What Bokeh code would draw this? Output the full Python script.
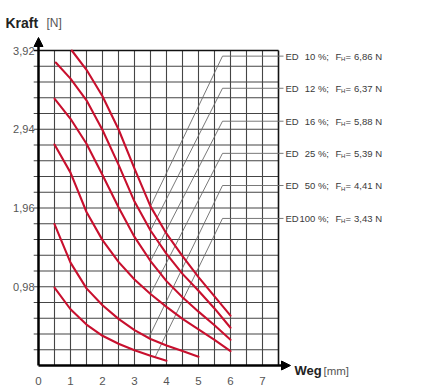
from bokeh.plotting import figure
from bokeh.models import Range1d, Arrow, NormalHead
from bokeh.core.properties import value
from bokeh.embed import file_html
from bokeh.resources import INLINE

# ---------------- data ----------------
x_tick_vals = [0, 1, 2, 3, 4, 5, 6, 7]
x_tick_labels = ["0", "1", "2", "3", "4", "5", "6", "7"]
y_tick_vals = [0.98, 1.96, 2.94, 3.92]
y_tick_labels = ["0,98", "1,96", "2,94", "3,92"]

ed_pct = ["10 %;", "12 %;", "16 %;", "25 %;", "50 %;", "100 %;"]
fh_vals = ["6,86 N", "6,37 N", "5,88 N", "5,39 N", "4,41 N", "3,43 N"]
label_y = [3.85, 3.45, 3.04, 2.64, 2.24, 1.83]

ed10_x = [1.04, 1.5, 2.0, 2.5, 3.0, 3.5, 4.0, 4.5, 5.0, 5.5, 6.0]
ed10_y = [3.92, 3.68, 3.35, 2.94, 2.45, 1.98, 1.64, 1.36, 1.10, 0.86, 0.62]
ed12_x = [0.54, 1.0, 1.5, 2.0, 2.5, 3.0, 3.5, 4.0, 4.5, 5.0, 5.5, 6.0]
ed12_y = [3.77, 3.57, 3.30, 2.93, 2.50, 2.04, 1.68, 1.39, 1.14, 0.93, 0.71, 0.47]
ed16_x = [0.5, 1.0, 1.5, 2.0, 2.5, 3.0, 3.5, 4.0, 4.5, 5.0, 5.5, 6.0]
ed16_y = [3.32, 3.07, 2.76, 2.37, 1.97, 1.60, 1.30, 1.05, 0.85, 0.67, 0.50, 0.32]
ed25_x = [0.5, 1.0, 1.5, 2.0, 2.5, 3.0, 3.5, 4.0, 4.5, 5.0, 5.5, 6.0]
ed25_y = [2.75, 2.40, 1.91, 1.56, 1.29, 1.07, 0.89, 0.73, 0.58, 0.45, 0.32, 0.18]
ed50_x = [0.5, 1.0, 1.5, 2.0, 2.5, 3.0, 3.5, 4.0, 4.5, 5.0]
ed50_y = [1.76, 1.28, 0.96, 0.75, 0.58, 0.44, 0.33, 0.25, 0.18, 0.11]
ed100_x = [0.5, 1.0, 1.5, 2.0, 2.5, 3.0, 3.5, 4.0]
ed100_y = [0.97, 0.70, 0.51, 0.37, 0.27, 0.19, 0.12, 0.06]

leader_x0 = [3.5, 3.5, 3.5, 3.5, 3.45, 3.65]
leader_y0 = [1.98, 1.68, 1.30, 0.89, 0.35, 0.11]

# ---------------- layout constants ----------------
W, H = 448, 387
PX_X = 32.0            # pixels per mm
PX_Y = 315.0 / 3.92    # pixels per N
ORIG_X = 38.0          # pixel of x=0 from canvas left
ORIG_Y = 365.0         # pixel of y=0 from canvas top
X_MAX, Y_MAX = 7.5, 3.92
DX, DY = 0.5, 0.196
KINK_X = 5.75


def px_x(px):
    return (px - ORIG_X) / PX_X


def px_y(py):
    return (ORIG_Y - py) / PX_Y


LEAD_END = px_x(283)
FONT = value("Liberation Sans")
RED = "#c8102e"
LEG = "#3a3a3a"

p = figure(width=W, height=H,
           x_range=Range1d(-ORIG_X / PX_X, (W - ORIG_X) / PX_X),
           y_range=Range1d(-(H - ORIG_Y) / PX_Y, ORIG_Y / PX_Y),
           output_backend="svg", toolbar_location=None,
           x_axis_type=None, y_axis_type=None, min_border=0)
p.outline_line_color = None
p.background_fill_color = "white"
p.border_fill_color = "white"

# grid
vx = [DX * k for k in range(1, int(round(X_MAX / DX)))]
p.segment(x0=vx, y0=[0] * len(vx), x1=vx, y1=[Y_MAX] * len(vx),
          line_color="#454545", line_width=1.1)
hy = [DY * k for k in range(1, int(round(Y_MAX / DY)))]
p.segment(x0=[-0.15] * len(hy), y0=hy, x1=[X_MAX] * len(hy), y1=hy,
          line_color="#454545", line_width=1.1)
# frame top/right
p.segment(x0=[-0.15, X_MAX], y0=[Y_MAX, 0], x1=[X_MAX, X_MAX], y1=[Y_MAX, Y_MAX],
          line_color="#111111", line_width=1.6)

# leaders
lead_xs, lead_ys = [], []
for x0, y0, yl in zip(leader_x0, leader_y0, label_y):
    lead_xs.append([x0, KINK_X, LEAD_END])
    lead_ys.append([y0, yl, yl])
p.multi_line(xs=lead_xs, ys=lead_ys, line_color="#6a6a6a", line_width=0.9)

# curves
for cx, cy in [(ed10_x, ed10_y), (ed12_x, ed12_y), (ed16_x, ed16_y),
               (ed25_x, ed25_y), (ed50_x, ed50_y), (ed100_x, ed100_y)]:
    p.line(cx, cy, line_color=RED, line_width=2.1, line_join="round", line_cap="round")

# axes with arrows
p.add_layout(Arrow(end=NormalHead(size=9, fill_color="black", line_color="black", line_width=1),
                   x_start=0, y_start=0, x_end=0, y_end=px_y(37),
                   line_color="black", line_width=2.5))
p.add_layout(Arrow(end=NormalHead(size=9, fill_color="black", line_color="black", line_width=1),
                   x_start=0, y_start=0, x_end=px_x(290), y_end=0,
                   line_color="black", line_width=2.5))

# tick labels
p.text(x=[px_x(34)] * len(y_tick_vals), y=y_tick_vals, text=y_tick_labels,
       text_font=FONT, text_font_size="11px", text_color="#555555",
       text_align="right", text_baseline="middle")
p.text(x=x_tick_vals, y=[px_y(380)] * len(x_tick_vals), text=x_tick_labels,
       text_font=FONT, text_font_size="11.5px", text_color="#555555",
       text_align="center", text_baseline="middle")

# axis titles
p.text(x=[px_x(5)], y=[px_y(22)], text=["Kraft"], text_font=FONT, text_font_size="14px",
       text_font_style="bold", text_color="#222222", text_baseline="alphabetic")
p.text(x=[px_x(46)], y=[px_y(22)], text=["[N]"], text_font=FONT, text_font_size="12px",
       text_color="#555555", text_baseline="alphabetic")
p.text(x=[px_x(294)], y=[px_y(370)], text=["Weg"], text_font=FONT, text_font_size="13px",
       text_font_style="bold", text_color="#222222", text_baseline="alphabetic")
p.text(x=[px_x(323)], y=[px_y(370)], text=["[mm]"], text_font=FONT, text_font_size="11.5px",
       text_color="#555555", text_baseline="alphabetic")

# legend labels
n = len(label_y)
LS = "9.5px"
p.text(x=[px_x(285)] * n, y=label_y, text=["ED"] * n, text_font=FONT, text_font_size=LS,
       text_color=LEG, text_baseline="middle")
p.text(x=[px_x(328.5)] * n, y=label_y, text=ed_pct, text_font=FONT, text_font_size=LS,
       text_color=LEG, text_align="right", text_baseline="middle")
p.text(x=[px_x(335)] * n, y=label_y, text=["F"] * n, text_font=FONT, text_font_size=LS,
       text_color=LEG, text_baseline="middle")
p.text(x=[px_x(340.5)] * n, y=label_y, text=["H"] * n, text_font=FONT, text_font_size="6px",
       text_color=LEG, text_baseline="middle", y_offset=3)
p.text(x=[px_x(345)] * n, y=label_y, text=["="] * n, text_font=FONT, text_font_size=LS,
       text_color=LEG, text_baseline="middle")
p.text(x=[px_x(381.5)] * n, y=label_y, text=fh_vals, text_font=FONT, text_font_size=LS,
       text_color=LEG, text_align="right", text_baseline="middle")

open("out.html", "w").write(file_html(p, INLINE))
